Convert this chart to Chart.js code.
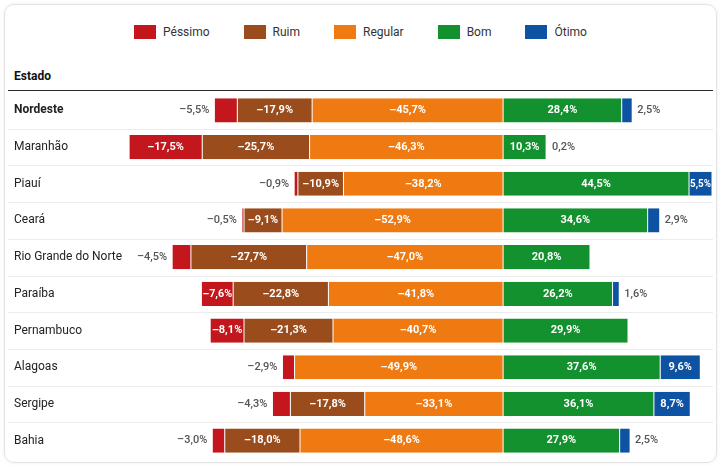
<!DOCTYPE html>
<html>
<head>
<meta charset="utf-8">
<script src="https://cdn.jsdelivr.net/npm/chart.js@4.4.1/dist/chart.umd.min.js"></script>
<style>
  body { margin: 0; background: #fff; font-family: Roboto, "Noto Sans", sans-serif; }
  #wrap { position: relative; width: 721px; height: 467px; }
  #card { position: absolute; left: 4px; top: 4px; width: 713px; height: 459px; box-sizing: border-box;
          border: 1px solid #e3e3e3; border-radius: 10px; box-shadow: 0 0 4px rgba(0,0,0,0.06); }
  #legend { position: absolute; top: 25px; left: 0; width: 721px; display: flex; justify-content: center;
            gap: 34px; font-size: 12px; color: #333; }
  .item { display: flex; align-items: center; }
  .box { width: 22px; height: 14px; margin-right: 7px; }
  #head { position: absolute; left: 14px; top: 69px; font-size: 12px; font-weight: bold; color: #111; }
  canvas { position: absolute; left: 0; top: 0; }
</style>
</head>
<body>
<div id="wrap">
  <div id="card"></div>
  <div id="legend"></div>
  <div id="head">Estado</div>
  <canvas id="chart" width="721" height="467"></canvas>
</div>
<script>
// Data (percentages; the negative side is Péssimo, Ruim and Regular)
const states = ['Nordeste', 'Maranhão', 'Piauí', 'Ceará', 'Rio Grande do Norte',
                'Paraíba', 'Pernambuco', 'Alagoas', 'Sergipe', 'Bahia'];
const pessimo = [-5.5, -17.5, -0.9, -0.5, -4.5, -7.6, -8.1, -2.9, -4.3, -3.0];
const ruim    = [-17.9, -25.7, -10.9, -9.1, -27.7, -22.8, -21.3, null, -17.8, -18.0];
const regular = [-45.7, -46.3, -38.2, -52.9, -47.0, -41.8, -40.7, -49.9, -33.1, -48.6];
const bom     = [28.4, 10.3, 44.5, 34.6, 20.8, 26.2, 29.9, 37.6, 36.1, 27.9];
const otimo   = [2.5, 0.2, 5.5, 2.9, null, 1.6, null, 9.6, 8.7, 2.5];

const seriesNames  = ['Péssimo', 'Ruim', 'Regular', 'Bom', 'Ótimo'];
const seriesValues = [pessimo, ruim, regular, bom, otimo];
const seriesColors = ['#c3161d', '#9a4c1c', '#f07a12', '#14912f', '#0d52a3'];

// stack outward from zero: Regular, Ruim, Péssimo on the left; Bom, Ótimo on the right
const stackOrder = [2, 1, 0, 3, 4];

// HTML legend in the original order
const legendEl = document.getElementById('legend');
seriesNames.forEach(function(name, i) {
    const item = document.createElement('div');
    item.className = 'item';
    const box = document.createElement('span');
    box.className = 'box';
    box.style.background = seriesColors[i];
    const txt = document.createElement('span');
    txt.textContent = name;
    item.appendChild(box);
    item.appendChild(txt);
    legendEl.appendChild(item);
});

function fmt(v) {
    const s = Math.abs(v).toFixed(1).replace('.', ',') + '%';
    return v < 0 ? '–' + s : s;
}

// row separators and the header rule
const rowLines = {
    id: 'rowLines',
    beforeDatasetsDraw(chart) {
        const ctx = chart.ctx;
        const y = chart.scales.y;
        const top = chart.chartArea.top;
        ctx.save();
        ctx.strokeStyle = '#ececec';
        ctx.lineWidth = 1;
        for (let i = 0; i < states.length - 1; i++) {
            const yy = Math.round((y.getPixelForValue(i) + y.getPixelForValue(i + 1)) / 2) + 0.5;
            ctx.beginPath();
            ctx.moveTo(8, yy);
            ctx.lineTo(713, yy);
            ctx.stroke();
        }
        ctx.strokeStyle = '#2a2a2a';
        ctx.lineWidth = 1.2;
        ctx.beginPath();
        ctx.moveTo(8, top - 1.5);
        ctx.lineTo(713, top - 1.5);
        ctx.stroke();
        ctx.restore();
    }
};

// value labels: inside when they fit (squeezed a little if needed), otherwise outside the bar end
const segmentLabels = {
    id: 'segmentLabels',
    afterDatasetsDraw(chart) {
        const ctx = chart.ctx;
        const W = chart.width;
        const minSqueeze = 0.74;
        ctx.save();
        ctx.textBaseline = 'middle';
        states.forEach(function(s, row) {
            let minX = Infinity, maxX = -Infinity;
            chart.data.datasets.forEach(function(ds, di) {
                if (ds.data[row] === null) return;
                const el = chart.getDatasetMeta(di).data[row];
                minX = Math.min(minX, el.x, el.base);
                maxX = Math.max(maxX, el.x, el.base);
            });
            chart.data.datasets.forEach(function(ds, di) {
                const v = ds.data[row];
                if (v === null) return;
                const el = chart.getDatasetMeta(di).data[row];
                const l = Math.min(el.x, el.base), r = Math.max(el.x, el.base);
                const text = fmt(v);
                ctx.font = 'bold 11px Roboto';
                const tw = ctx.measureText(text).width;
                const squeeze = Math.min(1, (r - l - 2) / tw);
                const outerLeft = l <= minX + 0.5 && v < 0;
                const outerRight = r >= maxX - 0.5 && v > 0 && r + 5 + tw < W - 2;
                if (squeeze < minSqueeze && outerLeft) {
                    ctx.font = '500 11px Roboto';
                    ctx.fillStyle = '#555';
                    ctx.textAlign = 'right';
                    ctx.fillText(text, l - 5, el.y);
                } else if (squeeze < minSqueeze && outerRight) {
                    ctx.font = '500 11px Roboto';
                    ctx.fillStyle = '#555';
                    ctx.textAlign = 'left';
                    ctx.fillText(text, r + 5, el.y);
                } else {
                    const k = Math.max(squeeze, minSqueeze);
                    ctx.save();
                    ctx.translate((l + r) / 2, el.y);
                    ctx.scale(k, 1);
                    ctx.fillStyle = '#fff';
                    ctx.textAlign = 'center';
                    ctx.fillText(text, 0, 0);
                    ctx.restore();
                }
            });
        });
        ctx.restore();
    }
};

const datasets = stackOrder.map(function(i) {
    return {
        label: seriesNames[i],
        data: seriesValues[i],
        backgroundColor: seriesColors[i],
        borderColor: '#ffffff',
        borderWidth: { left: 0.5, right: 0.5, top: 0, bottom: 0 },
        borderSkipped: false,
        barPercentage: 0.66,
        categoryPercentage: 1
    };
});

const chartCtx = document.getElementById('chart').getContext('2d');
const chart = new Chart(chartCtx, {
    type: 'bar',
    data: { labels: states, datasets: datasets },
    options: {
        indexAxis: 'y',
        responsive: false,
        animation: false,
        layout: { padding: { top: 92, left: 14, right: 9, bottom: 8 } },
        plugins: {
            legend: { display: false },
            tooltip: { enabled: false }
        },
        scales: {
            x: {
                stacked: true,
                display: false,
                min: -90,
                max: 50
            },
            y: {
                stacked: true,
                grid: { display: false },
                border: { display: false },
                afterFit: function(scale) { scale.width = 113; },
                ticks: {
                    crossAlign: 'far',
                    padding: 0,
                    color: '#222',
                    font: function(c) {
                        return { family: 'Roboto', size: 12, weight: c.index === 0 ? 'bold' : 'normal' };
                    }
                }
            }
        }
    },
    plugins: [rowLines, segmentLabels]
});
</script>
</body>
</html>
